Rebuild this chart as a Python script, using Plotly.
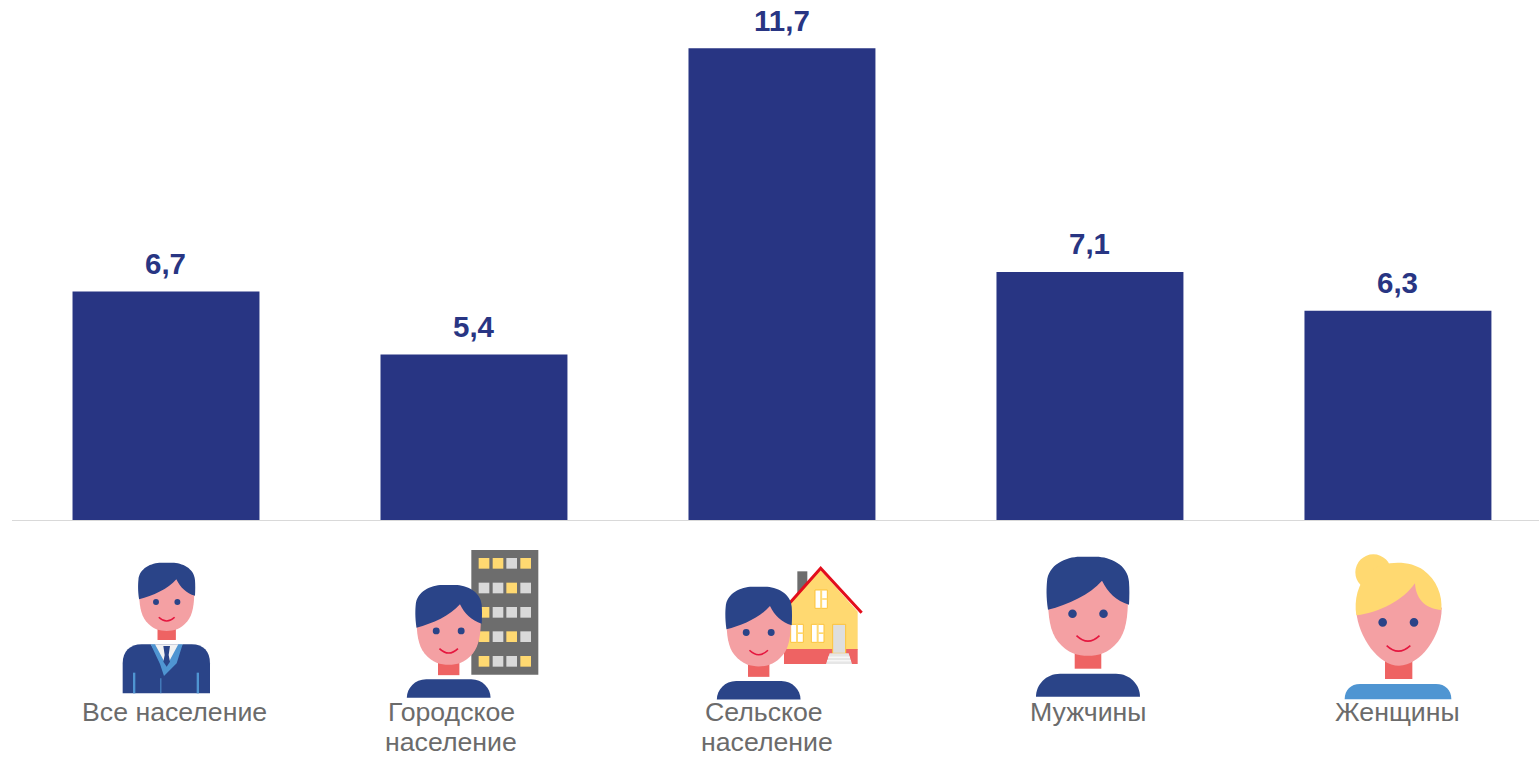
import re
import plotly.graph_objects as go

categories = ["Все население", "Городское население", "Сельское население", "Мужчины", "Женщины"]
values = [6.7, 5.4, 11.7, 7.1, 6.3]
value_labels = ["6,7", "5,4", "11,7", "7,1", "6,3"]
label_lines = [["Все население"], ["Городское", "население"], ["Сельское", "население"], ["Мужчины"], ["Женщины"]]
label_shifts = [[8.5], [-22, -23], [-18, -14.5], [-2], [0]]
label_rows_y = [712, 742]

W, H = 1539, 757
NAVY, HAIR, PINK, NECK = "#283583", "#2a4488", "#f4a0a3", "#ee6363"
YEL, GREY, RED, LBLUE, DGREY = "#ffd971", "#d9d9d9", "#e5173f", "#4f95d2", "#6d6d6d"
shapes = []


def conv(path, f):
    out, nums = [], []
    for tok in re.findall(r"[MLCQZ]|-?\d+\.?\d*", path):
        if tok.isalpha():
            out.append(tok)
        else:
            nums.append(float(tok))
            if len(nums) == 2:
                x, y = f(*nums)
                out.append(f"{x / W:.5f},{1 - y / H:.5f}")
                nums = []
    return " ".join(out)


def add_path(path, f, fill=None, line=None, lw=0):
    shapes.append(dict(type="path", xref="paper", yref="paper", layer="above", path=conv(path, f),
                       fillcolor=fill or "rgba(0,0,0,0)",
                       line=dict(color=line or "rgba(0,0,0,0)", width=lw)))


def add_rect(x0, y0, x1, y1, f, fill, line=None, lw=0):
    add_path(f"M {x0},{y0} L {x1},{y0} L {x1},{y1} L {x0},{y1} Z", f, fill, line, lw)


def add_circle(cx, cy, r, f, fill):
    x0, y0 = f(cx - r, cy - r)
    x1, y1 = f(cx + r, cy + r)
    shapes.append(dict(type="circle", xref="paper", yref="paper", layer="above",
                       x0=x0 / W, x1=x1 / W, y0=1 - y0 / H, y1=1 - y1 / H,
                       fillcolor=fill, line=dict(width=0)))


def head(f, neck_bottom=112):
    add_rect(-13.3, 95, 13.3, neck_bottom, f, NECK)
    add_path("M -25,15 L -40,40 C -40,60 -38,75 -30,85 C -20,97 -10,99 0,99 "
             "C 10,99 20,97 30,85 C 38,75 40,60 40,40 L 25,15 Z", f, PINK)
    add_path("M -40,53 C -42,40 -41.5,30 -41,25 C -40,8 -22,0 -8,0 L 8,0 C 22,0 40,8 41,25 "
             "C 41.5,32 41.5,40 41,48 C 28,44 20,36 14,24 C 2,38 -20,48 -40,53 Z", f, HAIR)
    add_circle(-15.5, 57, 4.3, f, HAIR)
    add_circle(15.5, 57, 4.3, f, HAIR)
    add_path("M -11.5,79 Q 0,90 11.5,79", f, None, RED, 1.6)


def person(cx, top, s):
    f = lambda x, y: (cx + x * s, top + y * s)
    head(f)
    add_path("M -52,140 C -52,128 -42,117 -28,117 L 28,117 C 42,117 52,128 52,140 Z", f, HAIR)


def zoomf(ox, oy):
    return lambda x, y: (ox + x / 3, oy + y / 3)


# --- Icon 1: man in suit
z1 = zoomf(60, 540)
add_path("M 188,460 L 188,370 C 188,335 210,313 245,313 L 395,313 C 430,313 450,335 450,370 L 450,460 Z", z1, HAIR)
add_path("M 272,313 L 368,313 L 320,385 Z", z1, "#f2f2f2")
add_path("M 272,313 L 285,313 L 320,378 L 355,313 L 368,313 L 350,370 L 312,408 L 300,372 Z", z1, LBLUE)
add_path("M 310,318 L 330,318 L 326,345 L 330,365 L 320,380 L 310,365 L 314,345 Z", z1, "#2a4488")
add_rect(219, 398, 226, 460, z1, LBLUE)
add_rect(410, 398, 417, 460, z1, LBLUE)
add_rect(301, 415, 304, 460, z1, LBLUE)
f1 = lambda x, y: (166.7 + x * 0.69, 562.7 + y * 0.69)
head(f1)

# --- Icon 2: man + building
z2 = zoomf(60, 540)
add_rect(1234, 30, 1435, 404, z2, DGREY)
win_rows = ["YYGY", "GGYG", "YGGG", "YGYG", "YGGY"]
for yc, row in zip([70, 144, 217, 290, 364], win_rows):
    for xc, c in zip([1272, 1314, 1355, 1397], row):
        add_rect(xc - 16, yc - 16, xc + 16, yc + 16, z2, YEL if c == "Y" else GREY)
person(448.7, 585, 0.805)

# --- Icon 3: man + house
z3 = zoomf(680, 540)
add_rect(352, 94, 382, 165, z3, DGREY)
add_path("M 312,210 L 422,90 L 533,215 L 533,330 L 312,330 Z", z3, YEL)
add_rect(312, 327, 533, 372, z3, NECK)
add_path("M 322,197 L 422,85 L 545,218", z3, None, "#e30e1c", 3)
for x0, y0, x1, y1 in [(405, 150, 442, 205), (332, 253, 370, 307), (394, 253, 432, 307)]:
    add_rect(x0, y0, x1, y1, z3, "#ffffff", "#fdc33a", 1)
    add_rect((x0 + x1) / 2 - 3, y0, (x0 + x1) / 2 + 3, y1, z3, YEL)
    add_rect((x0 + x1) / 2 + 3, (y0 + y1) / 2 - 3, x1, (y0 + y1) / 2 + 2, z3, YEL)
add_rect(458, 253, 497, 340, z3, "#dedede", "#fdc33a", 1)
add_path("M 449,340 L 506,340 L 516,372 L 438,372 Z", z3, "#e6e6e6")
add_rect(444, 350, 510, 353, z3, "#ffffff")
add_rect(441, 361, 513, 364, z3, "#ffffff")
person(758.7, 586.7, 0.805)

# --- Icon 4: man
person(1088, 556.7, 1.0)

# --- Icon 5: woman
z5 = zoomf(1280, 540)
add_rect(315, 360, 397, 417, z5, NECK)
add_path("M 194,478 C 194,450 212,432 240,432 L 468,432 C 496,432 514,450 514,478 Z", z5, LBLUE)
add_path("M 229,215 C 235,290 295,377 357,377 C 420,377 485,290 485,205 L 440,100 L 300,110 Z", z5, PINK)
add_circle(280, 97, 54, z5, YEL)
add_path("M 229,226 C 222,180 232,130 270,95 C 310,60 390,60 430,90 C 470,120 488,165 484,210 "
         "C 445,208 408,185 405,130 C 370,180 300,218 229,226 Z", z5, YEL)
add_circle(308, 247, 13, z5, HAIR)
add_circle(402, 247, 13, z5, HAIR)
add_path("M 320,317 Q 355,350 391,317", z5, None, RED, 1.6)

annotations = []
for i, (v, t) in enumerate(zip(values, value_labels)):
    annotations.append(dict(x=i, y=v, xref="x", yref="y", text=f"<b>{t}</b>", showarrow=False,
                            yanchor="middle", yshift=28,
                            font=dict(family="Liberation Sans, Arial", size=29.5, color=NAVY)))
for i, (lines, shifts) in enumerate(zip(label_lines, label_shifts)):
    for j, (ln, sh) in enumerate(zip(lines, shifts)):
        annotations.append(dict(x=i, xref="x", y=1 - label_rows_y[j] / H, yref="paper", text=ln, showarrow=False,
                                xanchor="center", yanchor="middle", xshift=sh,
                                font=dict(family="Liberation Sans, Arial", size=26.7, color="#6b6b6b")))

fig = go.Figure(go.Bar(x=list(range(len(categories))), y=values, customdata=categories,
                       marker=dict(color=NAVY, line=dict(width=0)), width=0.607,
                       hovertemplate="%{customdata}: %{y}<extra></extra>"))
fig.update_layout(
    width=W, height=H, margin=dict(l=0, r=0, t=0, b=0),
    paper_bgcolor="#ffffff", plot_bgcolor="#ffffff", showlegend=False,
    shapes=shapes, annotations=annotations,
    xaxis=dict(domain=[12 / W, 1], range=[-0.5, 4.458], showgrid=False, zeroline=False,
               showticklabels=False, ticks="", showline=True, linecolor="#d9d9d9", linewidth=1),
    yaxis=dict(domain=[1 - 520 / H, 1], range=[2, 12.69], showgrid=False, zeroline=False,
               showticklabels=False, ticks="", showline=False),
)
fig.write_html("out.html", post_script="document.body.style.margin='0';document.documentElement.style.overflow='hidden';",
               config=dict(displayModeBar=False))
